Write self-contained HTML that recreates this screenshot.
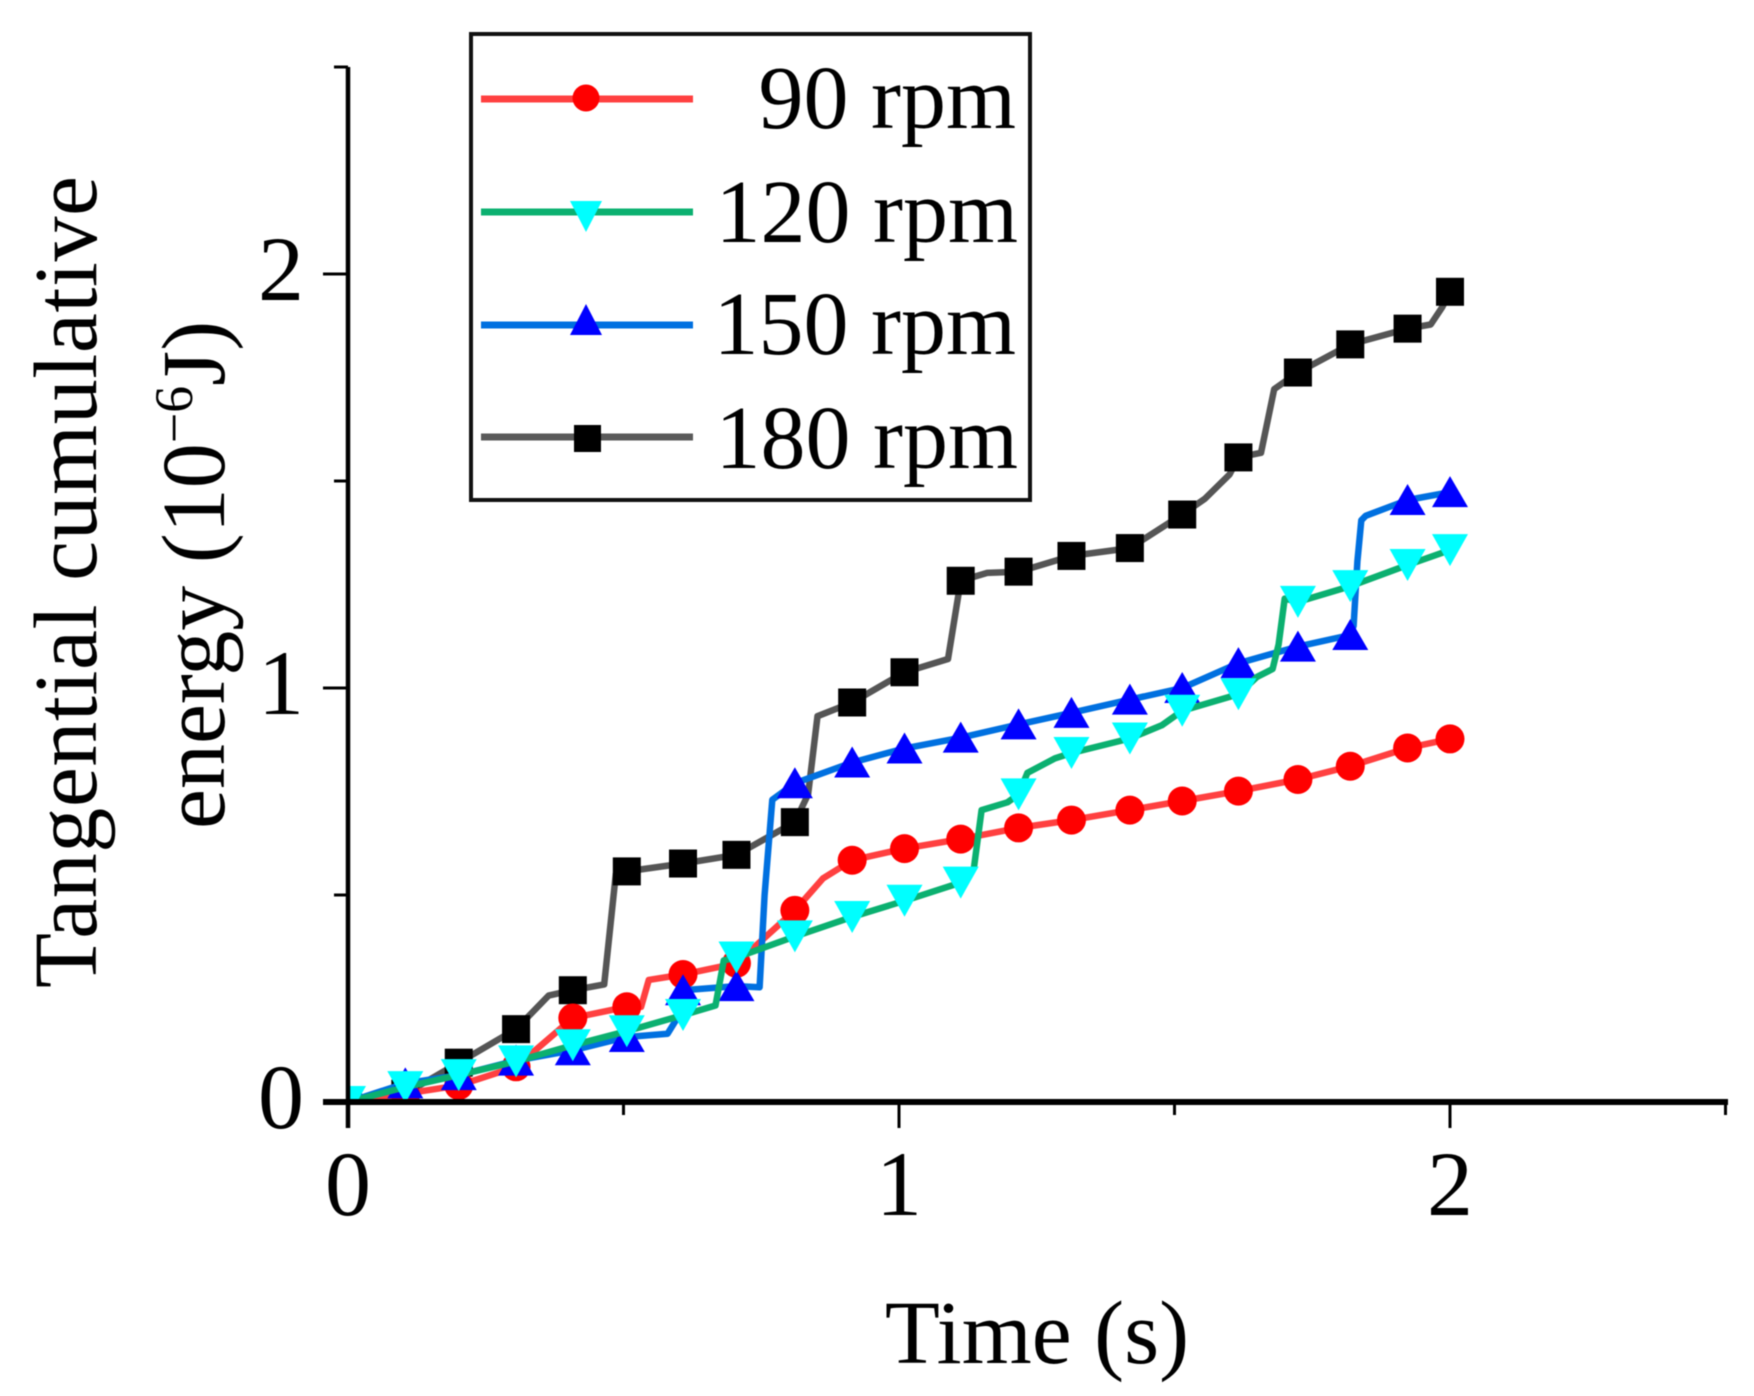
<!DOCTYPE html>
<html>
<head>
<meta charset="utf-8">
<title>Tangential cumulative energy</title>
<style>
html,body{margin:0;padding:0;background:#fff;}
svg{display:block;filter:blur(0.5px);}
text{font-family:"Liberation Serif",serif;fill:#000;}
</style>
</head>
<body>
<svg id="chart" xmlns="http://www.w3.org/2000/svg" width="1754" height="1396" viewBox="0 0 1754 1396">
  <defs>
    <clipPath id="plot-clip"><rect x="348" y="40" width="1400" height="1064"/></clipPath>
  </defs>
  <g id="series-layer" clip-path="url(#plot-clip)"></g>
  <g id="axes-layer"></g>

  <text x="1037" y="1363" font-size="90" text-anchor="middle">Time (s)</text>
  <text transform="translate(96,988) rotate(-90)" font-size="90" textLength="812" lengthAdjust="spacing">Tangential cumulative</text>
  <text transform="translate(224,829) rotate(-90)" font-size="90">energy (10<tspan font-size="54" dy="-32">−6</tspan><tspan dy="32">J)</tspan></text>

  <g>
    <rect x="471" y="34" width="559" height="466" fill="#fff" stroke="#111" stroke-width="4"/>
    <g>
      <line x1="481" y1="99" x2="693" y2="99" stroke="#ff4040" stroke-width="7"/>
      <circle cx="586" cy="98" r="13.5" fill="#ff0000"/>
      <text x="1016" y="128" font-size="90" text-anchor="end">90 rpm</text>
    </g>
    <g>
      <line x1="481" y1="212" x2="693" y2="212" stroke="#0bb070" stroke-width="7"/>
      <polygon points="570,201 602,201 586,232" fill="#00ffff"/>
      <text x="1018" y="242" font-size="90" text-anchor="end">120 rpm</text>
    </g>
    <g>
      <line x1="481" y1="325" x2="693" y2="325" stroke="#0070e0" stroke-width="7"/>
      <polygon points="570,335 602,335 586,304" fill="#0000ff"/>
      <text x="1016" y="354" font-size="90" text-anchor="end">150 rpm</text>
    </g>
    <g>
      <line x1="481" y1="437" x2="693" y2="437" stroke="#5a5a5a" stroke-width="7"/>
      <rect x="574" y="425" width="27" height="27" fill="#000"/>
      <text x="1018" y="468" font-size="90" text-anchor="end">180 rpm</text>
    </g>
  </g>
</svg>

<script>
const markerTimes = [0,0.104,0.201,0.305,0.408,0.506,0.608,0.705,0.811,0.915,1.01,1.112,1.217,1.313,1.419,1.514,1.616,1.724,1.819,1.923,2.0];

const values90 = [0,0.02,0.04,0.085,0.203,0.23,0.308,0.335,0.463,0.584,0.612,0.635,0.662,0.681,0.705,0.727,0.751,0.779,0.811,0.855,0.877];
const bendTimes90 = [0.532,0.546,0.862];
const bendValues90 = [0.23,0.295,0.54];

const values120 = [0,0.036,0.065,0.098,0.137,0.171,0.21,0.349,0.40,0.447,0.486,0.53,0.743,0.843,0.878,0.945,0.985,1.208,1.246,1.297,1.333];
const bendTimes120 = [0.667,0.682,1.136,1.15,1.197,1.233,1.283,1.477,1.65,1.678,1.689,1.70];
const bendValues120 = [0.233,0.342,0.565,0.705,0.724,0.795,0.83,0.91,1.027,1.046,1.105,1.216];

const values150 = [0,0.045,0.065,0.10,0.125,0.157,0.27,0.28,0.77,0.82,0.854,0.88,0.912,0.94,0.972,1.0,1.06,1.10,1.128,1.454,1.473];
const bendTimes150 = [0.58,0.595,0.747,0.756,0.77,1.825,1.832,1.839,1.847];
const bendValues150 = [0.165,0.197,0.277,0.5,0.73,1.15,1.306,1.405,1.416];

const values180 = [0,0.02,0.095,0.176,0.27,0.557,0.576,0.597,0.676,0.965,1.038,1.259,1.281,1.319,1.338,1.419,1.557,1.762,1.83,1.868,1.957];
const bendTimes180 = [0.364,0.465,0.486,0.835,0.852,1.089,1.16,1.555,1.6,1.657,1.681,1.965,1.986];
const bendValues180 = [0.257,0.284,0.55,0.743,0.932,1.07,1.278,1.457,1.516,1.568,1.722,1.878,1.92];

const xMajorTicks = [0,1,2];
const xMinorTicks = [0.5,1.5,2.5];
const yMajorTicks = [0,1,2];
const yMinorTicks = [0.5,1.5,2.5];

function xScale(t){ return 348 + t * 551; }
function yScale(v){ return 1102 - v * 414; }

const NS = 'http://www.w3.org/2000/svg';
const seriesLayer = document.getElementById('series-layer');
const axesLayer = document.getElementById('axes-layer');

function make(tag, parent){
  const el = document.createElementNS(NS, tag);
  parent.appendChild(el);
  return el;
}

function mergePoints(values, bendT, bendV){
  const pts = [];
  markerTimes.forEach(function(t,i){ pts.push([t, values[i]]); });
  bendT.forEach(function(t,i){ pts.push([t, bendV[i]]); });
  pts.sort(function(a,b){ return a[0]-b[0]; });
  return pts;
}

function drawLine(values, bendT, bendV, color, name){
  const d = mergePoints(values, bendT, bendV).map(function(p,i){
    return (i ? 'L' : 'M') + xScale(p[0]).toFixed(1) + ' ' + yScale(p[1]).toFixed(1);
  }).join(' ');
  const path = make('path', seriesLayer);
  
  
  path.setAttribute('d', d);
  path.setAttribute('fill', 'none');
  path.setAttribute('stroke', color);
  path.setAttribute('stroke-width', '6.5');
  path.setAttribute('stroke-linejoin', 'round');
  path.setAttribute('stroke-linecap', 'round');
}

function drawMarkers(values, kind, color, name){
  values.forEach(function(v,i){
    const cx = xScale(markerTimes[i]);
    const cy = yScale(v);
    let el;
    if(kind === 'circle'){
      el = make('circle', seriesLayer);
      el.setAttribute('cx', cx);
      el.setAttribute('cy', cy);
      el.setAttribute('r', 14.5);
    } else if(kind === 'square'){
      el = make('rect', seriesLayer);
      el.setAttribute('x', cx - 14);
      el.setAttribute('y', cy - 14);
      el.setAttribute('width', 28);
      el.setAttribute('height', 28);
    } else if(kind === 'up'){
      el = make('polygon', seriesLayer);
      el.setAttribute('points', (cx-18)+','+(cy+15)+' '+(cx+18)+','+(cy+15)+' '+cx+','+(cy-16));
    } else {
      el = make('polygon', seriesLayer);
      el.setAttribute('points', (cx-18)+','+(cy-16)+' '+(cx+18)+','+(cy-16)+' '+cx+','+(cy+16));
    }
    el.setAttribute('fill', color);
    
    
  });
}

drawLine(values180, bendTimes180, bendValues180, '#555555', 'series-180-rpm');
drawMarkers(values180, 'square', '#000000', 'series-180-rpm');
drawLine(values90, bendTimes90, bendValues90, '#ff4040', 'series-90-rpm');
drawMarkers(values90, 'circle', '#ff0000', 'series-90-rpm');
drawLine(values150, bendTimes150, bendValues150, '#0070e0', 'series-150-rpm');
drawMarkers(values150, 'up', '#0000ff', 'series-150-rpm');
drawLine(values120, bendTimes120, bendValues120, '#0bb070', 'series-120-rpm');
drawMarkers(values120, 'down', '#00ffff', 'series-120-rpm');

function axisLine(x1,y1,x2,y2,w,name){
  const l = make('line', axesLayer);
  l.setAttribute('x1', x1);
  l.setAttribute('y1', y1);
  l.setAttribute('x2', x2);
  l.setAttribute('y2', y2);
  l.setAttribute('stroke', '#000');
  l.setAttribute('stroke-width', w);
  
  
}

function axisLabel(x,y,anchor,str,name){
  const t = make('text', axesLayer);
  t.setAttribute('x', x);
  t.setAttribute('y', y);
  t.setAttribute('text-anchor', anchor);
  t.setAttribute('font-size', '92');
  t.textContent = str;
  
  
}

axisLine(348, 67, 348, 1128, 4.5, 'y-axis-line');
axisLine(323, 1102, 1728, 1102, 6, 'x-axis-line');

xMajorTicks.forEach(function(v){
  axisLine(xScale(v), 1102, xScale(v), 1128, 3, 'x-major-tick');
  axisLabel(xScale(v), 1215, 'middle', String(v), 'x-tick-label');
});
xMinorTicks.forEach(function(v){
  axisLine(xScale(v), 1102, xScale(v), 1115, 3, 'x-minor-tick');
});
yMajorTicks.forEach(function(v){
  axisLine(323, yScale(v), 348, yScale(v), 3, 'y-major-tick');
  axisLabel(304, yScale(v) + 26, 'end', String(v), 'y-tick-label');
});
yMinorTicks.forEach(function(v){
  axisLine(334, yScale(v), 348, yScale(v), 3, 'y-minor-tick');
});
</script>
</body>
</html>
